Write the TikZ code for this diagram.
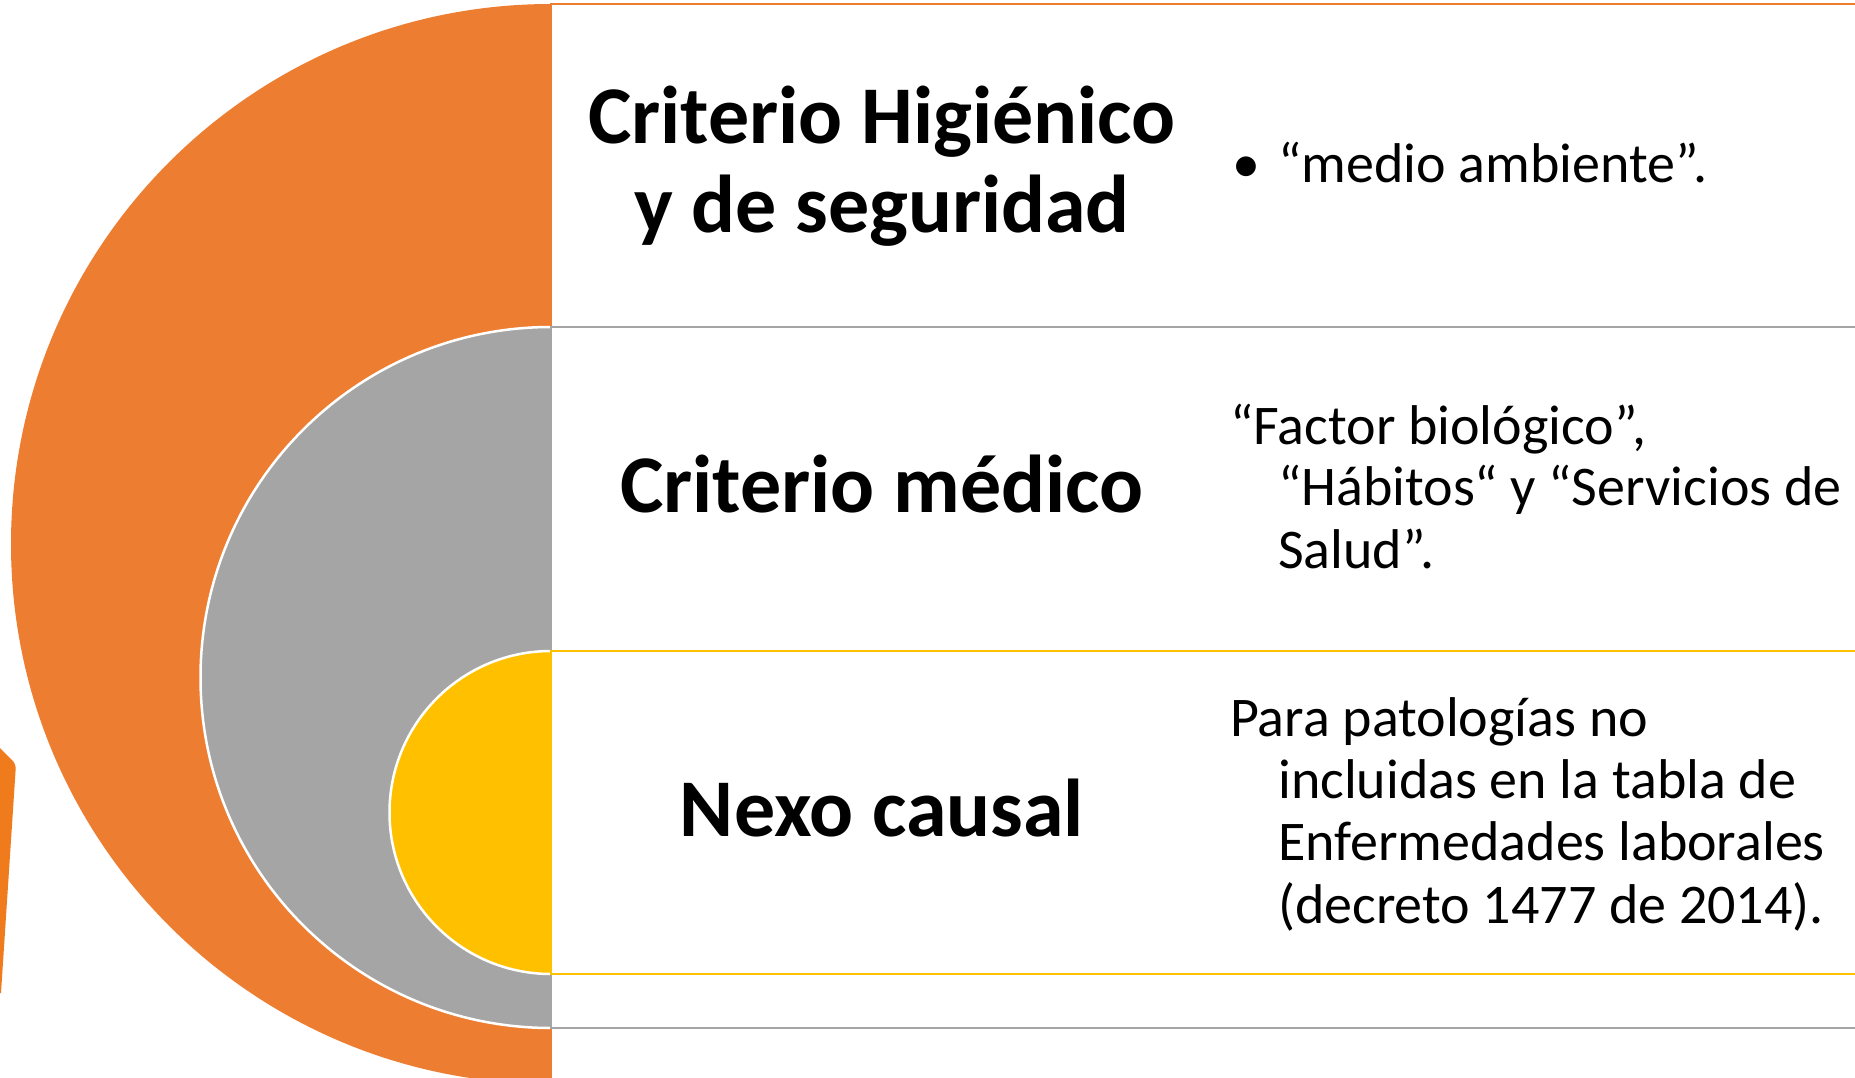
\documentclass[tikz,border=0pt]{standalone}
\usepackage{fontspec}
\setmainfont{Carlito}
\definecolor{orangeA}{HTML}{ED7D31}
\definecolor{greyA}{HTML}{A5A5A5}
\definecolor{goldA}{HTML}{FFC000}
\definecolor{orangeB}{HTML}{EF7B1D}
\tikzset{
  ttl/.style={anchor=base, font=\fontsize{82}{91}\selectfont\bfseries, inner sep=0pt},
  bodytxt/.style={anchor=base west, font=\fontsize{56}{62}\selectfont, inner sep=0pt},
  boxline/.style={line width=2.5pt, fill=white},
  disc/.style={draw=white, line width=2.5pt}
}
\begin{document}
\begin{tikzpicture}[x=1pt,y=-1pt]
\useasboundingbox (0,0) rectangle (1855,1078);
\clip (0,0) rectangle (1855,1078);
\fill[white] (0,0) rectangle (1855,1078);
% half discs
\begin{scope}
  \clip (-10,-10) rectangle (551,1100);
  \fill[orangeA] (551,544) circle[radius=540];
  \path[disc, fill=greyA] (551,677.5) circle[radius=350.5];
  \path[disc, fill=goldA] (551,812.5) circle[radius=161.5];
\end{scope}
% boxes
\draw[boxline, draw=orangeA] (551,4) rectangle (1900,1120);
\draw[boxline, draw=greyA] (551,327) rectangle (1900,1028);
\draw[boxline, draw=goldA] (551,651) rectangle (1900,974);
% left fragment
\fill[orangeB] (-5,743) [rounded corners=5pt] -- (16,764) [sharp corners] -- (1,993) -- (-5,993) -- cycle;
% titles
\node[ttl] (t1a) at (882,144) {Criterio Higiénico};
\node[ttl] (t1b) at (882,233) {y de seguridad};
\node[ttl] (t2) at (882,512) {Criterio médico};
\node[ttl] (t3) at (882,836) {Nexo causal};
% body texts
\node[bodytxt] (b0) at (1232,183) {•};
\node[bodytxt] (b1) at (1278,183) {“medio ambiente”.};
\node[bodytxt] (m1) at (1230,444) {“Factor biológico”,};
\node[bodytxt] (m2) at (1278,505) {“Hábitos“ y “Servicios de};
\node[bodytxt] (m3) at (1278,568) {Salud”.};
\node[bodytxt] (n1) at (1230,736) {Para patologías no};
\node[bodytxt] (n2) at (1278,798) {incluidas en la tabla de};
\node[bodytxt] (n3) at (1278,860) {Enfermedades laborales};
\node[bodytxt] (n4) at (1278,923) {(decreto 1477 de 2014).};
\end{tikzpicture}
\end{document}
